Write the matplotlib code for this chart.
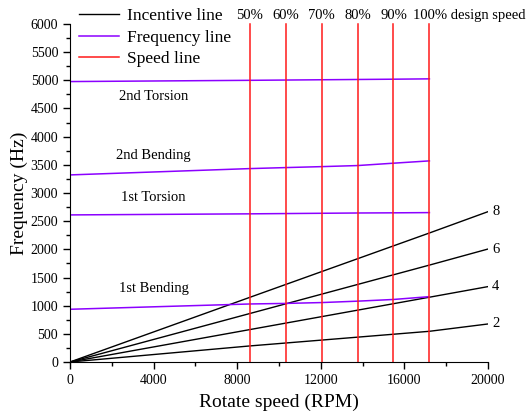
import numpy as np
import matplotlib
matplotlib.use("Agg")
import matplotlib.pyplot as plt
from matplotlib.ticker import MultipleLocator

plt.rcParams['font.family'] = ['Liberation Serif', 'DejaVu Serif']

# speed points (RPM)
design_speed = 17200
speed_pct = [50, 60, 70, 80, 90, 100]
speed_x = [8600, 10320, 12040, 13760, 15480, 17200]

# incentive (excitation) lines
inc_x = [0, 8600, 17200, 20000]
inc_orders = ['2', '4', '6', '8']
inc_y = {
    '2': [0, 285, 545, 675],
    '4': [0, 575, 1150, 1338],
    '6': [0, 860, 1720, 2005],
    '8': [0, 1147, 2290, 2668],
}

# natural frequency lines
freq_x = [0, 8600, 10320, 12040, 13760, 15480, 17200]
bend1 = [936, 1030, 1040, 1055, 1080, 1110, 1160]
tors1 = [2611, 2630, 2635, 2640, 2645, 2648, 2652]
bend2 = [3321, 3433, 3451, 3468, 3487, 3529, 3570]
tors2 = [4978, 5000, 5005, 5010, 5015, 5020, 5026]
mode_names = ['1st Bending', '1st Torsion', '2nd Bending', '2nd Torsion']
mode_label_y = [1297, 2913, 3659, 4707]

fig = plt.figure(figsize=(5.27, 4.15), dpi=100)
ax = fig.add_axes([0.1328, 0.1277, 0.793, 0.8145])

purple = '#8B00FF'
for i, o in enumerate(inc_orders):
    ax.plot(inc_x, inc_y[o], color='black', lw=1.0,
            label='Incentive line' if i == 0 else None)
    ax.annotate(o, (inc_x[-1], inc_y[o][-1]), xytext=(3, 0),
                textcoords='offset points', fontsize=10.5, va='center')

for i, fy in enumerate([bend1, tors1, bend2, tors2]):
    ax.plot(freq_x, fy, color=purple, lw=1.1,
            label='Frequency line' if i == 0 else None)

for i, sx in enumerate(speed_x):
    ax.plot([sx, sx], [0, 6000], color='#FF1A1A', lw=1.1,
            label='Speed line' if i == 0 else None, clip_on=False)
    if speed_pct[i] < 100:
        ax.text(sx, 6030, '%d%%' % speed_pct[i], ha='center', va='bottom', fontsize=10.5)
ax.text(speed_x[-1] - 780, 6030, '100% design speed', ha='left', va='bottom', fontsize=10.5)

for name, ly in zip(mode_names, mode_label_y):
    ax.text(4000, ly, name, ha='center', va='center', fontsize=10.5)

ax.set_xlim(0, 20000)
ax.set_ylim(0, 6000)
ax.xaxis.set_major_locator(MultipleLocator(4000))
ax.xaxis.set_minor_locator(MultipleLocator(2000))
ax.yaxis.set_major_locator(MultipleLocator(500))
ax.yaxis.set_minor_locator(MultipleLocator(250))
ax.tick_params(which='both', direction='out', labelsize=10, width=1)
ax.tick_params(which='major', length=5)
ax.tick_params(which='minor', length=3)
ax.spines['top'].set_visible(False)
ax.spines['right'].set_visible(False)

ax.set_xlabel('Rotate speed (RPM)', fontsize=14, labelpad=5)
ax.set_ylabel('Frequency (Hz)', fontsize=14, labelpad=2)

ax.legend(loc='upper left', bbox_to_anchor=(0.0, 1.072), frameon=False,
          fontsize=12.5, handlelength=2.3, handletextpad=0.5,
          labelspacing=0.3, borderaxespad=0.1)

fig.savefig('out.png', dpi=100)
